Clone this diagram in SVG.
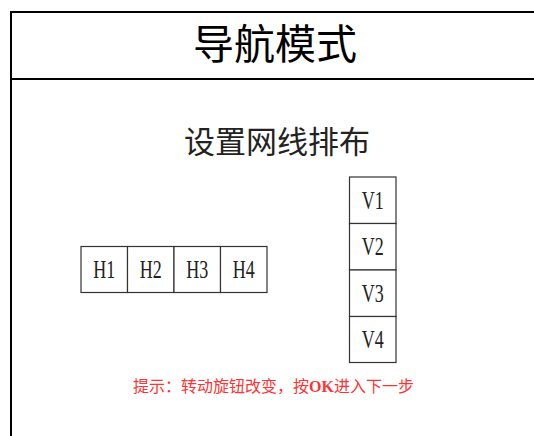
<svg xmlns="http://www.w3.org/2000/svg" width="534" height="436" viewBox="0 0 534 436">
<style>
.frame{fill:none;stroke:#000;stroke-width:2}
.cell{fill:#fff;stroke:#333;stroke-width:1.2}
.lbl{font-family:"Liberation Serif","Noto Sans CJK SC",serif;font-size:25px;fill:#222;text-anchor:middle}
.title{font-family:"Noto Sans CJK SC",sans-serif;font-size:41px;fill:#000;text-anchor:middle}
.sub{font-family:"Liberation Serif","Noto Sans CJK SC",serif;font-size:31px;fill:#222;text-anchor:middle}
.hint{font-family:"Liberation Serif","Noto Sans CJK SC",serif;font-size:16px;fill:#ff3333;text-anchor:middle}
</style>
<rect width="534" height="436" fill="#fff"/>
<g id="frame">
<rect class="frame" x="11" y="12" width="540" height="440"/>
<line class="frame" x1="11" y1="79" x2="534" y2="79"/>
</g>
<g id="title"><text class="title" x="275" y="59">导航模式</text></g>
<g id="subtitle"><text class="sub" x="277" y="153">设置网线排布</text></g>
<g id="H1"><rect class="cell" x="81" y="246.5" width="46.5" height="46"/><text class="lbl" x="104.25" y="278" textLength="22" lengthAdjust="spacingAndGlyphs">H1</text></g>
<g id="H2"><rect class="cell" x="127.5" y="246.5" width="46.5" height="46"/><text class="lbl" x="150.75" y="278" textLength="22" lengthAdjust="spacingAndGlyphs">H2</text></g>
<g id="H3"><rect class="cell" x="174" y="246.5" width="46.5" height="46"/><text class="lbl" x="197.25" y="278" textLength="22" lengthAdjust="spacingAndGlyphs">H3</text></g>
<g id="H4"><rect class="cell" x="220.5" y="246.5" width="46.5" height="46"/><text class="lbl" x="243.75" y="278" textLength="22" lengthAdjust="spacingAndGlyphs">H4</text></g>
<g id="V1"><rect class="cell" x="349.5" y="177" width="46.5" height="46.5"/><text class="lbl" x="372.75" y="208.5" textLength="22" lengthAdjust="spacingAndGlyphs">V1</text></g>
<g id="V2"><rect class="cell" x="349.5" y="223.5" width="46.5" height="46.5"/><text class="lbl" x="372.75" y="255" textLength="22" lengthAdjust="spacingAndGlyphs">V2</text></g>
<g id="V3"><rect class="cell" x="349.5" y="270" width="46.5" height="46.5"/><text class="lbl" x="372.75" y="301.5" textLength="22" lengthAdjust="spacingAndGlyphs">V3</text></g>
<g id="V4"><rect class="cell" x="349.5" y="316.5" width="46.5" height="46"/><text class="lbl" x="372.75" y="348" textLength="22" lengthAdjust="spacingAndGlyphs">V4</text></g>
<g id="connectors"/>
<g id="hint"><text class="hint" x="273.5" y="392">提示：转动旋钮改变，按<tspan font-weight="bold">OK</tspan>进入下一步</text></g>
</svg>
